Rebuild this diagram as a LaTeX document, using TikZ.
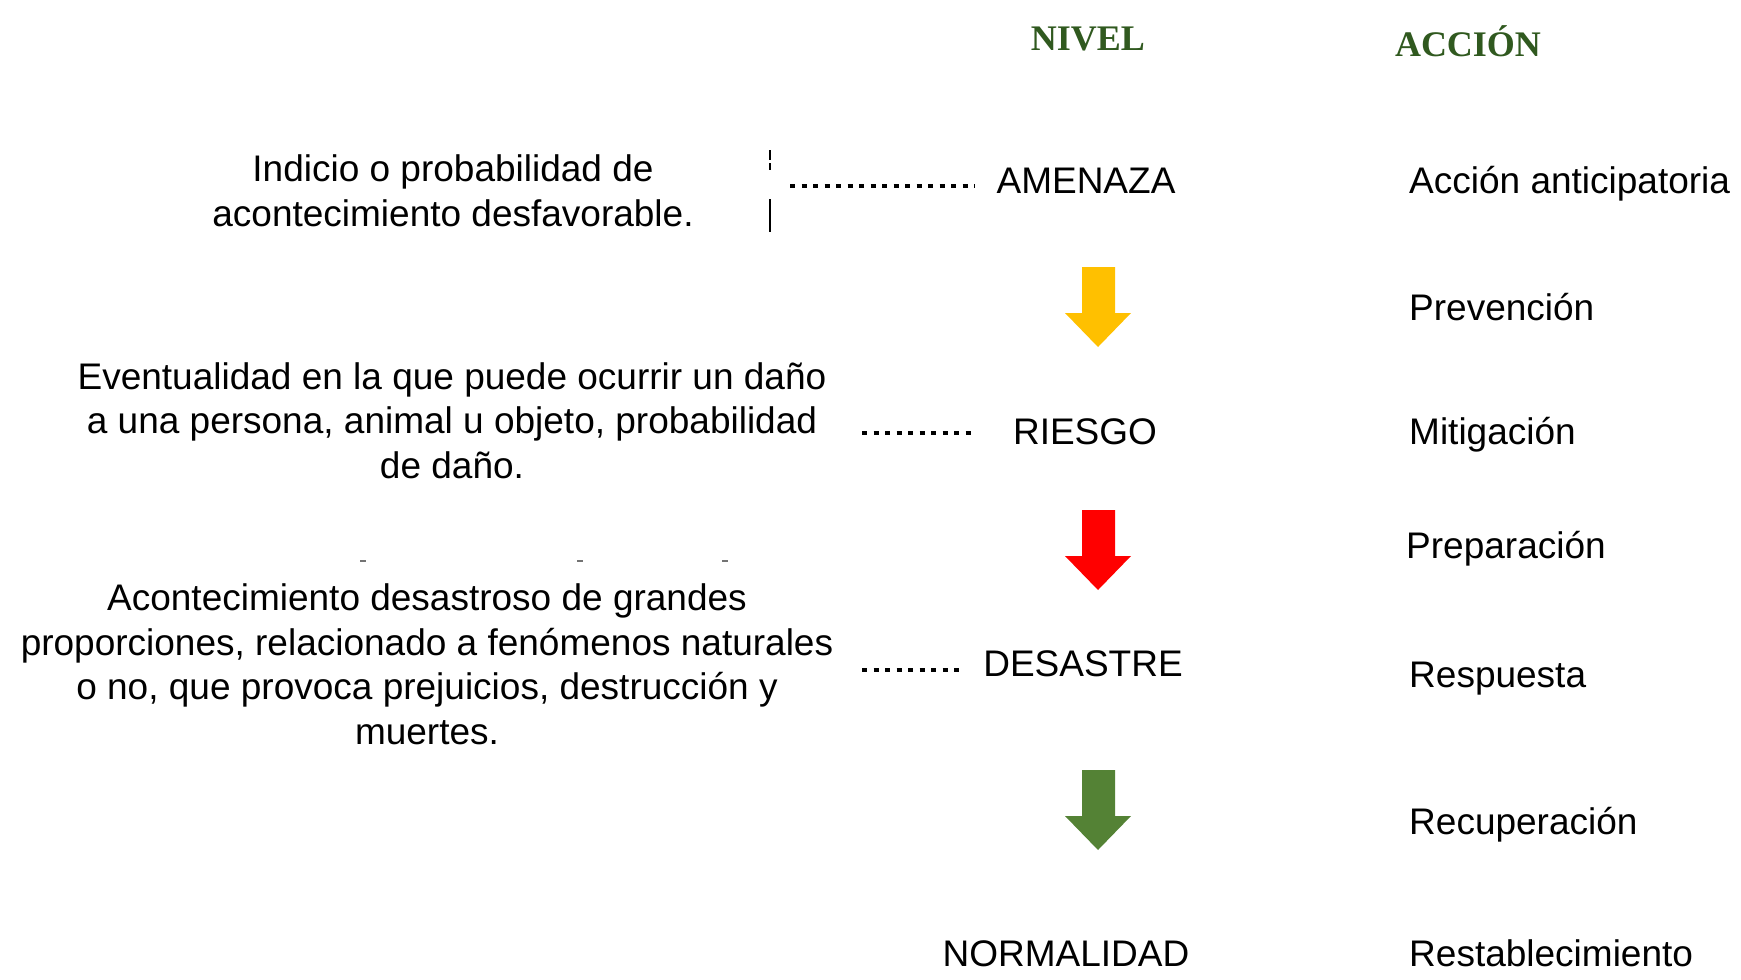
\documentclass[tikz,border=0pt]{standalone}
\usepackage{fontspec}
\setmainfont{Liberation Sans}
\newfontfamily\seriftitle{Liberation Serif}
\usepackage{tikz}
\definecolor{ffcqqq}{rgb}{1.,0.7529411764705882,0.}
\definecolor{ffqqqq}{rgb}{1.,0.,0.}
\definecolor{uuwwqq}{rgb}{0.32941176470588235,0.5098039215686274,0.20784313725490197}
\definecolor{qqwuqq}{rgb}{0.19,0.35,0.12}
\definecolor{uuuuuu}{rgb}{0.45,0.45,0.45}

\begin{document}
\begin{tikzpicture}[line cap=butt,line join=miter,x=1pt,y=-1pt,
  txt/.style={inner sep=0pt,font=\fontsize{37}{44.5}\selectfont},
  head/.style={inner sep=0pt,text=qqwuqq,font=\seriftitle\bfseries\fontsize{36}{40}\selectfont},
  dots/.style={line width=4.5pt,dash pattern=on 5pt off 6.5pt}]
\useasboundingbox (0,0) rectangle (1741,980);
% headers
\node[head,anchor=base] (nivel) at (1088,50) {NIVEL};
\node[head,anchor=base] (accion) at (1468,56) {ACCIÓN};
% niveles
\node[txt,anchor=base] (amenaza) at (1086,193) {AMENAZA};
\node[txt,anchor=base] (riesgo) at (1085,444) {RIESGO};
\node[txt,anchor=base] (desastre) at (1083,676) {DESASTRE};
\node[txt,anchor=base] (normalidad) at (1066,966) {NORMALIDAD};
% acciones
\node[txt,anchor=base west] (anticipatoria) at (1409,193) {Acción anticipatoria};
\node[txt,anchor=base west] (prevencion) at (1409,320) {Prevención};
\node[txt,anchor=base west] (mitigacion) at (1409,444) {Mitigación};
\node[txt,anchor=base west] (preparacion) at (1406,558) {Preparación};
\node[txt,anchor=base west] (respuesta) at (1409,687) {Respuesta};
\node[txt,anchor=base west] (recuperacion) at (1409,834) {Recuperación};
\node[txt,anchor=base west] (restablecimiento) at (1409,966) {Restablecimiento};
% definiciones (base = ultima linea)
\node[txt,anchor=base,align=center] (defamenaza) at (453,226) {Indicio o probabilidad de\\acontecimiento desfavorable.};
\node[txt,anchor=base,align=center] (defriesgo) at (452,478) {Eventualidad en la que puede ocurrir un daño\\a una persona, animal u objeto, probabilidad\\de daño.};
\node[txt,anchor=base,align=center] (defdesastre) at (427,744) {Acontecimiento desastroso de grandes\\proporciones, relacionado a fenómenos naturales\\o no, que provoca prejuicios, destrucción y\\muertes.};
% lineas punteadas
\coordinate (p1) at (790,186);
\coordinate (p2) at (862,433);
\coordinate (p3) at (862,670);
\draw[dots,shorten >=21pt] (p1) -- (p1 -| amenaza.west);
\draw[dots,shorten >=38pt] (p2) -- (p2 -| riesgo.west);
\draw[dots,shorten >=20pt] (p3) -- (p3 -| desastre.west);
% marcas
\draw[line width=2pt] (770,150)-- (770,160);
\draw[line width=2pt] (770,163)-- (770,170);
\draw[line width=2pt] (770,199)-- (770,232);
\draw[line width=2pt,color=uuuuuu] (360,561)-- (366,561);
\draw[line width=2pt,color=uuuuuu] (577,561)-- (583,561);
\draw[line width=2pt,color=uuuuuu] (722,561)-- (728,561);
% flechas
\fill[color=ffcqqq] (1082,267) -- (1115,267) -- (1115,313) -- (1131,313) -- (1098,347) -- (1065,313) -- (1082,313) -- cycle;
\fill[shift={(0,243)},color=ffqqqq] (1082,267) -- (1115,267) -- (1115,313) -- (1131,313) -- (1098,347) -- (1065,313) -- (1082,313) -- cycle;
\fill[shift={(0,503)},color=uuwwqq] (1082,267) -- (1115,267) -- (1115,313) -- (1131,313) -- (1098,347) -- (1065,313) -- (1082,313) -- cycle;
\end{tikzpicture}
\end{document}
